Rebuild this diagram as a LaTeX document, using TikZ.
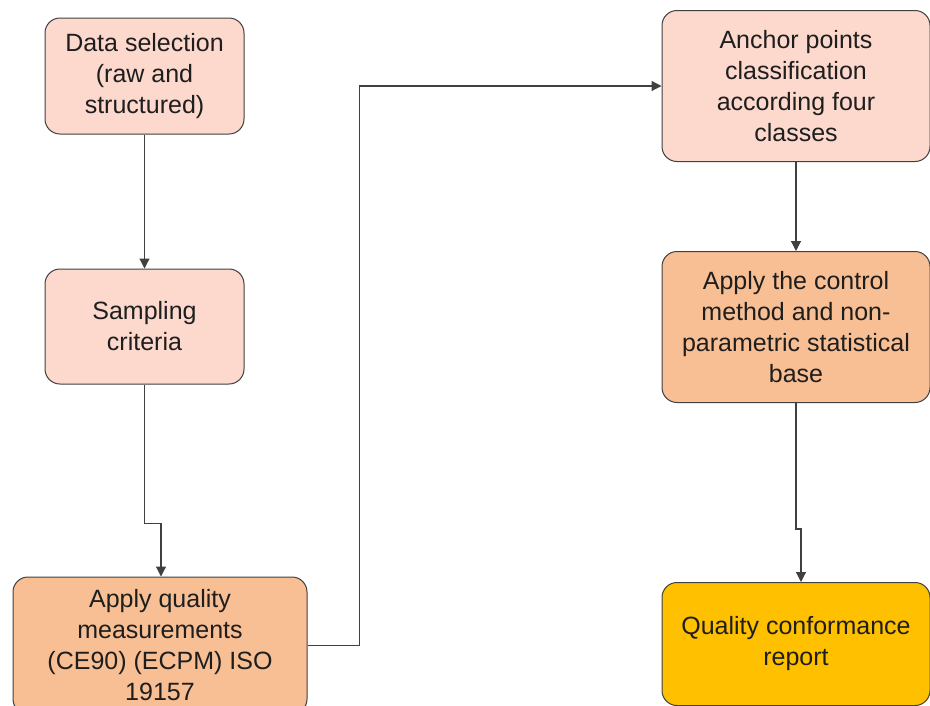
\documentclass[tikz,border=0pt]{standalone}
\usepackage{fontspec}
\setmainfont{Liberation Sans}
\usepackage{tikz}
\usetikzlibrary{positioning}
\usetikzlibrary{arrows.meta}
\definecolor{pink}{RGB}{252,216,205}
\definecolor{salmon}{RGB}{248,190,148}
\definecolor{gold}{RGB}{255,192,0}
\definecolor{edge}{RGB}{64,64,64}
\definecolor{ink}{RGB}{30,30,30}

\begin{document}
\begin{tikzpicture}[x=1pt, y=1pt,
  box/.style={draw=edge, line width=1pt, rounded corners=15pt, align=center,
    inner sep=4pt, text=ink, font=\fontsize{25}{31}\selectfont},
  lightbox/.style={box, fill=pink},
  midbox/.style={box, fill=salmon},
  endbox/.style={box, fill=gold},
  flow/.style={draw=edge, line width=1.2pt, -{Triangle[length=10pt,width=10pt]}}]
  \useasboundingbox (0,0) rectangle (930,-705);
  % Define nodes
  \node[lightbox, minimum width=199pt, minimum height=116pt] (data) at (144.5,-76)
    {Data selection\\(raw and\\structured)};
  \node[lightbox, minimum width=199pt, minimum height=115pt, below=134pt of data] (sampling)
    {Sampling\\criteria};
  \node[midbox, minimum width=294pt, minimum height=137pt, below=192pt of sampling, xshift=15.5pt] (measure)
    {Apply quality\\measurements\\(CE90) (ECPM) ISO\\19157};
  \node[lightbox, minimum width=268pt, minimum height=151pt, right=417pt of data, yshift=-10pt] (anchor)
    {Anchor points\\classification\\according four\\classes};
  \node[midbox, minimum width=268pt, minimum height=151pt, below=89pt of anchor] (control)
    {Apply the control\\method and non-\\parametric statistical\\base};
  \node[endbox, minimum width=268pt, minimum height=123pt, below=179pt of control] (report)
    {Quality conformance\\report};
  % Connect nodes
  \draw[flow] (data) -- (sampling);
  \draw[flow] (sampling.south) -- ++(0,-139) -| ([xshift=1pt]measure.north);
  \draw[flow] (measure.east) -- ++(52,0) |- (anchor.west);
  \draw[flow] (anchor) -- (control);
  \draw[flow] (control.south) -- ++(0,-126) -| ([xshift=5pt]report.north);
\end{tikzpicture}
\end{document}
